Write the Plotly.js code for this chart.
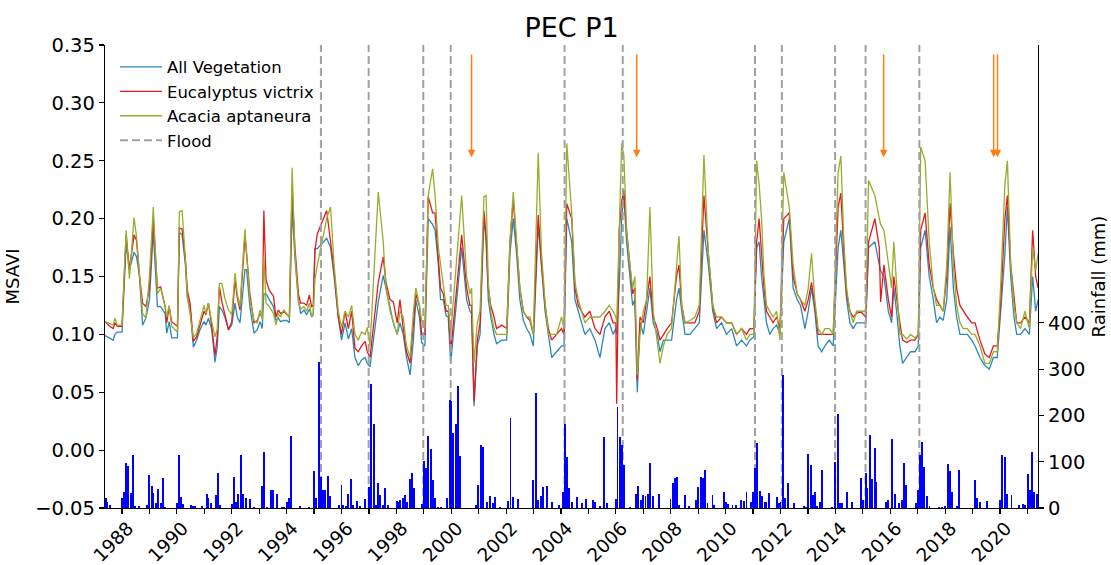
<!DOCTYPE html>
<html>
<head>
<meta charset="utf-8">
<script src="https://cdn.plot.ly/plotly-3.0.1.min.js"></script>
<style>
  html, body { margin: 0; padding: 0; background: #ffffff; }
  #chart { width: 1111px; height: 565px; }
</style>
</head>
<body>
<div id="chart"></div>
<script>
// ---- MSAVI time series (decimal year) ----
const dates = [
1987.38,1987.55,1987.68,1987.74,1987.83,1988.00,1988.15,1988.27,1988.44,1988.53,
1988.63,1988.75,1988.87,1989.00,1989.14,1989.29,1989.41,1989.57,1989.63,1989.72,
1989.81,1990.02,1990.09,1990.19,1990.31,1990.38,1990.48,1990.60,1990.72,1990.84,
1990.99,1991.06,1991.15,1991.27,1991.39,1991.47,1991.55,1991.64,1991.75,1991.88,
1992.00,1992.12,1992.20,1992.30,1992.48,1992.54,1992.66,1992.81,1992.93,1993.03,
1993.11,1993.17,1993.25,1993.37,1993.52,1993.61,1993.70,1993.78,1993.90,1994.00,
1994.10,1994.20,1994.30,1994.43,1994.51,1994.63,1994.73,1994.83,1994.91,1994.97,
1995.03,1995.12,1995.46,1995.60,1995.73,1995.88,1996.00,1996.13,1996.25,1996.37,
1996.49,1996.61,1996.73,1996.86,1996.94,1997.04,1997.34,1997.52,1997.62,1997.77,
1997.89,1998.03,1998.13,1998.25,1998.37,1998.50,1998.62,1998.71,1998.84,1998.92,
1999.04,1999.16,1999.32,1999.41,1999.53,1999.61,1999.71,1999.81,1999.89,1999.98,
2000.38,2000.56,2000.68,2000.74,2000.83,2000.95,2001.05,2001.19,2001.27,2001.35,
2001.44,2001.56,2001.65,2001.84,2002.02,2002.14,2002.26,2002.38,2002.50,2002.63,
2002.75,2002.87,2002.99,2003.17,2003.29,2003.42,2003.54,2003.66,2003.84,2004.02,
2004.11,2004.21,2004.39,2004.51,2004.63,2004.75,2004.87,2005.05,2005.24,2005.42,
2005.60,2005.76,2005.90,2006.00,2006.03,2006.12,2006.21,2006.29,2006.39,2006.51,
2006.61,2006.69,2006.78,2006.88,2007.00,2007.12,2007.24,2007.36,2007.51,2007.61,
2007.73,2007.87,2008.03,2008.21,2008.30,2008.40,2008.52,2008.70,2008.88,2009.04,
2009.21,2009.37,2009.53,2009.67,2009.85,2010.03,2010.22,2010.40,2010.58,2010.76,
2010.88,2011.03,2011.13,2011.22,2011.31,2011.40,2011.49,2011.61,2011.73,2011.86,
2011.98,2012.12,2012.32,2012.46,2012.61,2012.73,2012.89,2013.01,2013.13,2013.25,
2013.37,2013.50,2013.62,2013.78,2013.92,2014.10,2014.20,2014.31,2014.41,2014.53,
2014.65,2014.77,2014.92,2015.11,2015.21,2015.44,2015.60,2015.65,2015.77,2015.93,
2016.05,2016.13,2016.23,2016.35,2016.45,2016.60,2016.74,2016.90,2017.02,2017.11,
2017.27,2017.42,2017.57,2017.69,2017.81,2017.93,2018.06,2018.18,2018.30,2018.42,
2018.54,2018.66,2018.81,2018.97,2019.09,2019.27,2019.45,2019.61,2019.76,2019.90,
2020.02,2020.18,2020.27,2020.39,2020.51,2020.61,2020.75,2020.91,2021.07,2021.19,
2021.30,2021.39
];
const allVegetation = [
0.099,0.097,0.095,0.100,0.102,0.102,0.178,0.156,0.171,0.167,
0.152,0.108,0.114,0.130,0.189,0.124,0.124,0.118,0.101,0.111,
0.097,0.097,0.188,0.186,0.160,0.132,0.123,0.089,0.095,0.104,
0.111,0.108,0.114,0.104,0.076,0.089,0.124,0.121,0.115,0.104,
0.108,0.127,0.115,0.110,0.156,0.156,0.124,0.101,0.104,0.111,
0.105,0.135,0.135,0.130,0.124,0.112,0.114,0.111,0.112,0.112,
0.110,0.209,0.167,0.130,0.118,0.121,0.117,0.122,0.115,0.117,
0.174,0.174,0.183,0.175,0.150,0.115,0.095,0.110,0.096,0.105,
0.080,0.073,0.078,0.080,0.075,0.072,0.128,0.151,0.140,0.125,
0.110,0.100,0.110,0.100,0.080,0.065,0.095,0.130,0.115,0.093,
0.090,0.200,0.195,0.190,0.160,0.130,0.130,0.116,0.115,0.075,
0.175,0.130,0.120,0.118,0.038,0.090,0.100,0.200,0.180,0.130,
0.115,0.100,0.092,0.095,0.095,0.170,0.200,0.170,0.130,0.112,
0.105,0.100,0.090,0.195,0.160,0.120,0.100,0.080,0.085,0.090,
0.090,0.200,0.180,0.130,0.120,0.110,0.100,0.105,0.095,0.080,
0.105,0.110,0.100,0.105,0.100,0.140,0.200,0.220,0.180,0.150,
0.125,0.130,0.050,0.110,0.100,0.120,0.140,0.110,0.100,0.085,
0.095,0.095,0.095,0.130,0.140,0.120,0.100,0.100,0.105,0.110,
0.190,0.160,0.120,0.105,0.110,0.100,0.105,0.090,0.095,0.090,
0.095,0.098,0.175,0.180,0.150,0.130,0.110,0.100,0.105,0.108,
0.100,0.180,0.200,0.140,0.130,0.125,0.105,0.120,0.140,0.120,
0.090,0.085,0.090,0.095,0.090,0.175,0.190,0.160,0.130,0.110,
0.105,0.110,0.110,0.110,0.175,0.180,0.160,0.155,0.150,0.120,
0.110,0.140,0.120,0.090,0.075,0.080,0.085,0.085,0.090,0.175,
0.190,0.150,0.130,0.110,0.115,0.112,0.130,0.193,0.140,0.115,
0.100,0.100,0.100,0.095,0.090,0.080,0.073,0.070,0.080,0.080,
0.120,0.170,0.210,0.150,0.115,0.100,0.100,0.105,0.100,0.150,
0.120,0.130
];
const eucalyptusVictrix = [
0.111,0.107,0.105,0.110,0.107,0.107,0.186,0.156,0.186,0.181,
0.152,0.127,0.124,0.140,0.200,0.140,0.141,0.124,0.110,0.124,
0.111,0.107,0.192,0.191,0.165,0.138,0.127,0.094,0.098,0.108,
0.120,0.117,0.127,0.107,0.082,0.098,0.141,0.128,0.118,0.104,
0.111,0.147,0.132,0.121,0.184,0.170,0.135,0.110,0.112,0.118,
0.115,0.207,0.147,0.138,0.133,0.115,0.121,0.118,0.120,0.117,
0.115,0.228,0.176,0.135,0.127,0.127,0.125,0.134,0.124,0.125,
0.172,0.187,0.207,0.180,0.155,0.115,0.100,0.120,0.105,0.120,
0.088,0.085,0.090,0.094,0.085,0.080,0.145,0.167,0.145,0.130,
0.128,0.110,0.130,0.105,0.085,0.075,0.110,0.135,0.125,0.100,
0.100,0.219,0.205,0.205,0.165,0.140,0.135,0.120,0.120,0.085,
0.186,0.140,0.125,0.125,0.042,0.095,0.110,0.207,0.185,0.140,
0.125,0.115,0.105,0.108,0.105,0.180,0.216,0.175,0.140,0.120,
0.115,0.112,0.100,0.203,0.160,0.125,0.105,0.095,0.100,0.105,
0.100,0.213,0.200,0.140,0.125,0.120,0.115,0.120,0.105,0.100,
0.115,0.120,0.110,0.110,0.040,0.190,0.215,0.225,0.190,0.160,
0.135,0.140,0.060,0.115,0.110,0.130,0.150,0.115,0.105,0.095,
0.100,0.105,0.110,0.150,0.160,0.125,0.110,0.110,0.110,0.120,
0.220,0.170,0.125,0.110,0.115,0.110,0.110,0.100,0.105,0.100,
0.105,0.105,0.180,0.200,0.170,0.140,0.120,0.115,0.110,0.115,
0.105,0.200,0.205,0.150,0.135,0.130,0.120,0.130,0.145,0.125,
0.100,0.100,0.100,0.100,0.100,0.210,0.222,0.170,0.135,0.120,
0.115,0.118,0.120,0.115,0.180,0.200,0.175,0.128,0.160,0.130,
0.115,0.150,0.130,0.110,0.095,0.093,0.095,0.095,0.100,0.190,
0.205,0.160,0.140,0.130,0.125,0.120,0.150,0.213,0.170,0.140,
0.125,0.120,0.115,0.110,0.110,0.095,0.083,0.080,0.090,0.090,
0.125,0.200,0.220,0.160,0.130,0.110,0.110,0.115,0.110,0.190,
0.150,0.140
];
const acaciaAptaneura = [
0.111,0.109,0.108,0.114,0.108,0.108,0.190,0.148,0.201,0.184,
0.152,0.118,0.114,0.150,0.210,0.135,0.140,0.124,0.115,0.125,
0.107,0.102,0.206,0.207,0.165,0.132,0.118,0.097,0.101,0.112,
0.125,0.118,0.127,0.111,0.098,0.104,0.144,0.144,0.131,0.121,
0.117,0.153,0.135,0.124,0.191,0.170,0.130,0.112,0.110,0.121,
0.113,0.167,0.127,0.124,0.118,0.108,0.118,0.115,0.121,0.118,
0.114,0.244,0.170,0.127,0.122,0.124,0.120,0.127,0.115,0.118,
0.147,0.160,0.200,0.210,0.160,0.120,0.106,0.120,0.115,0.125,
0.100,0.095,0.102,0.100,0.106,0.090,0.223,0.180,0.140,0.120,
0.110,0.100,0.120,0.115,0.090,0.080,0.120,0.140,0.125,0.112,
0.105,0.220,0.243,0.220,0.175,0.160,0.145,0.125,0.125,0.100,
0.220,0.150,0.135,0.140,0.075,0.110,0.120,0.219,0.220,0.145,
0.120,0.105,0.100,0.100,0.100,0.180,0.223,0.180,0.140,0.120,
0.115,0.115,0.100,0.257,0.170,0.128,0.100,0.100,0.100,0.115,
0.105,0.265,0.205,0.145,0.130,0.120,0.110,0.115,0.115,0.115,
0.120,0.125,0.120,0.115,0.110,0.190,0.265,0.255,0.190,0.160,
0.140,0.150,0.065,0.100,0.120,0.130,0.210,0.120,0.090,0.075,
0.090,0.100,0.105,0.155,0.185,0.125,0.110,0.112,0.115,0.125,
0.255,0.170,0.125,0.115,0.115,0.110,0.110,0.100,0.105,0.095,
0.100,0.100,0.250,0.230,0.200,0.150,0.125,0.120,0.115,0.120,
0.095,0.240,0.210,0.160,0.135,0.130,0.125,0.140,0.170,0.130,
0.105,0.100,0.105,0.105,0.100,0.240,0.254,0.180,0.140,0.120,
0.110,0.120,0.120,0.120,0.233,0.220,0.200,0.195,0.190,0.160,
0.140,0.180,0.145,0.100,0.100,0.096,0.100,0.097,0.100,0.262,
0.250,0.180,0.140,0.125,0.125,0.120,0.160,0.240,0.160,0.125,
0.110,0.105,0.105,0.100,0.100,0.090,0.075,0.075,0.085,0.085,
0.140,0.230,0.250,0.160,0.125,0.110,0.105,0.120,0.105,0.175,
0.155,0.170
];

// ---- Rainfall (mm) ----
const rainDates = [
1987.42,1987.47,1987.55,
1988.00,1988.07,1988.15,1988.23,1988.32,1988.41,1988.47,1988.63,
1988.90,1989.00,1989.08,1989.14,1989.24,1989.32,1989.41,1989.48,1989.57,
1990.00,1990.08,1990.15,1990.23,1990.50,1990.58,1990.66,
1990.90,1991.09,1991.15,1991.23,1991.43,1991.49,1991.57,
1992.00,1992.08,1992.16,1992.24,1992.32,1992.42,1992.51,1992.66,1992.81,
1993.09,1993.17,1993.27,1993.42,1993.49,1993.66,1993.82,1993.90,1994.00,1994.07,1994.16,
1994.49,1994.83,
1995.00,1995.07,1995.17,1995.24,1995.31,1995.40,1995.50,1995.58,
1995.91,1996.00,1996.07,1996.15,1996.25,1996.33,1996.43,1996.55,1996.67,1996.86,
1997.00,1997.09,1997.18,1997.26,1997.34,1997.40,1997.50,1997.60,1997.68,
1998.01,1998.07,1998.13,1998.23,1998.31,1998.38,1998.48,1998.57,1998.64,
1998.92,1999.00,1999.08,1999.16,1999.25,1999.32,1999.41,1999.53,1999.61,
1999.86,1999.95,2000.01,2000.07,2000.16,2000.23,2000.32,
2000.90,2000.99,2001.08,2001.17,2001.31,2001.41,2001.51,2001.59,2001.78,
2002.08,2002.16,2002.24,2002.42,
2002.99,2003.09,2003.17,2003.26,2003.35,2003.48,2003.68,
2003.94,2004.06,2004.14,2004.22,2004.30,2004.39,2004.59,2004.78,2004.91,
2005.15,2005.24,2005.42,2005.58,2005.66,
2006.00,2006.06,2006.15,2006.22,2006.31,
2006.51,2006.73,2006.82,2006.91,2007.00,2007.08,2007.18,2007.24,2007.34,
2007.58,2007.99,2008.07,2008.15,2008.24,2008.31,2008.52,2008.68,
2008.92,2009.00,2009.09,2009.17,2009.26,2009.34,2009.52,2009.58,
2009.94,2010.01,2010.10,2010.25,2010.37,2010.55,2010.67,2010.76,
2010.92,2011.01,2011.07,2011.15,2011.25,2011.33,2011.42,2011.49,2011.59,
2011.88,2011.95,2012.00,2012.08,2012.16,2012.26,2012.49,
2012.85,2012.93,2013.01,2013.10,2013.17,2013.25,2013.33,2013.44,2013.50,
2013.86,2013.98,2014.08,2014.16,2014.24,2014.41,2014.59,
2014.92,2015.02,2015.11,2015.16,2015.26,2015.34,2015.43,2015.50,
2015.84,2015.93,2016.08,2016.17,2016.32,2016.42,2016.51,2016.59,
2016.94,2017.01,2017.08,2017.17,2017.24,2017.33,2017.43,
2017.79,2017.87,2017.99,2018.09,2018.18,2018.25,2018.42,2018.50,
2019.09,2019.17,2019.27,2019.51,
2020.00,2020.08,2020.18,2020.27,2020.42,
2020.70,2020.85,2020.92,2021.01,2021.09,2021.18,2021.25,2021.34
];
const rainfall = [
21,14,7,
21,35,98,91,32,115,4,4,
6,71,48,33,11,40,10,64,3,
10,115,23,9,6,5,4,
4,30,21,10,28,76,6,
8,66,14,31,114,31,21,20,3,
47,120,3,39,39,30,2,2,14,21,156,
4,2,
79,21,316,68,39,39,69,25,
6,49,6,4,31,63,6,15,4,19,
46,268,181,6,55,28,6,43,6,
15,14,17,22,28,14,63,75,43,
8,101,87,156,127,60,22,3,3,
22,234,231,163,182,264,112,
6,50,136,131,14,25,10,23,2,
16,195,23,19,
60,249,17,26,46,48,14,
6,35,181,111,43,12,23,10,19,
17,14,4,154,10,
19,219,154,136,93,
3,30,48,17,28,26,31,98,26,
30,19,53,64,68,6,28,4,
17,46,68,64,82,10,28,6,
35,14,9,6,6,17,16,35,
14,35,86,141,37,25,12,13,33,
23,10,14,288,21,53,10,
4,3,116,93,28,34,4,14,82,
2,100,203,10,10,35,14,
64,17,75,43,158,62,129,57,
14,17,149,31,10,17,98,50,
10,39,115,142,89,26,4,
2,2,4,95,81,34,4,82,
60,22,14,15,
17,115,111,31,28,
6,8,6,73,39,121,35,30
];

// ---- Events ----
const floodYears = [1995.25,1996.99,1998.98,1999.98,2004.13,2006.25,2011.07,2012.05,2013.99,2015.10,2017.06];
const arrowYears = [2000.74,2006.76,2015.76,2019.77,2019.91];
const arrowTop = 0.343, arrowTip = 0.253;

const yearTicks = [];
for (let y = 1988; y <= 2021; y++) yearTicks.push(y);
const yearLabels = yearTicks.map(y => (y % 2 === 0 ? String(y) : ''));

const floodX = [], floodY = [];
floodYears.forEach(f => { floodX.push(f, f, null); floodY.push(-0.05, 0.35, null); });

const FONT = 'DejaVu Sans, Verdana, sans-serif';

const traces = [
  { x: rainDates, y: rainfall, type: 'bar', yaxis: 'y2', width: 0.07,
    marker: { color: '#0000ff', line: { width: 0 } }, showlegend: false, hoverinfo: 'skip' },
  { x: dates, y: allVegetation, type: 'scatter', mode: 'lines', name: 'All Vegetation',
    line: { color: '#2b87b8', width: 1.3 } },
  { x: dates, y: eucalyptusVictrix, type: 'scatter', mode: 'lines', name: 'Eucalyptus victrix',
    line: { color: '#e31a1c', width: 1.3 } },
  { x: dates, y: acaciaAptaneura, type: 'scatter', mode: 'lines', name: 'Acacia aptaneura',
    line: { color: '#98ad2c', width: 1.3 } },
  { x: floodX, y: floodY, type: 'scatter', mode: 'lines', name: 'Flood',
    line: { color: '#a0a0a0', width: 2, dash: '8px,4px' }, connectgaps: false }
];

const annotations = arrowYears.map(a => ({
  x: a, y: arrowTip, ax: a, ay: arrowTop, xref: 'x', yref: 'y', axref: 'x', ayref: 'y',
  text: '', showarrow: true, arrowhead: 2, arrowsize: 1, arrowwidth: 1.5,
  arrowcolor: '#ff7f0e', standoff: 0, startstandoff: 0
}));

const layout = {
  width: 1111, height: 565,
  margin: { l: 105, r: 73, t: 45, b: 57, pad: 0 },
  paper_bgcolor: '#ffffff', plot_bgcolor: '#ffffff',
  font: { family: FONT, size: 19, color: '#000000' },
  title: { text: 'PEC P1', font: { family: FONT, size: 27, color: '#000000' },
           x: 0.5, xref: 'paper', y: 0.952, yref: 'container', yanchor: 'middle' },
  showlegend: true,
  legend: { x: 0.0107, y: 0.99, xanchor: 'left', yanchor: 'top', bgcolor: 'rgba(0,0,0,0)',
            itemwidth: 42,
            font: { family: FONT, size: 16.5, color: '#000000' }, borderwidth: 0 },
  bargap: 0,
  xaxis: {
    range: [1987.38, 2021.385], tickmode: 'array', tickvals: yearTicks, ticktext: yearLabels,
    tickangle: -45, ticks: 'outside', ticklen: 5, tickwidth: 1.2, tickcolor: '#000',
    ticklabelshift: 6, ticklabelstandoff: -4,
    showline: true, linecolor: '#000', linewidth: 1.2, mirror: false,
    showgrid: false, zeroline: false, tickfont: { family: FONT, size: 18.5 }
  },
  yaxis: {
    range: [-0.05, 0.35], tickmode: 'array',
    tickvals: [-0.05, 0, 0.05, 0.1, 0.15, 0.2, 0.25, 0.3, 0.35], tickformat: '.2f',
    ticks: 'outside', ticklen: 5, tickwidth: 1.2, tickcolor: '#000',
    showline: true, linecolor: '#000', linewidth: 1.2, showgrid: false, zeroline: false,
    title: { text: 'MSAVI', font: { family: FONT, size: 18 }, standoff: 10 },
    tickfont: { family: FONT, size: 19.5 }
  },
  yaxis2: {
    overlaying: 'y', side: 'right', range: [0, 1000], tickmode: 'array',
    tickvals: [0, 100, 200, 300, 400],
    ticks: 'outside', ticklen: 5, tickwidth: 1.2, tickcolor: '#000',
    showline: true, linecolor: '#000', linewidth: 1.2, showgrid: false, zeroline: false,
    title: { text: 'Rainfall (mm)', font: { family: FONT, size: 18 }, standoff: 8 },
    tickfont: { family: FONT, size: 19.5 }
  },
  annotations: annotations
};

Plotly.newPlot('chart', traces, layout, { staticPlot: true, displayModeBar: false });
</script>
</body>
</html>
